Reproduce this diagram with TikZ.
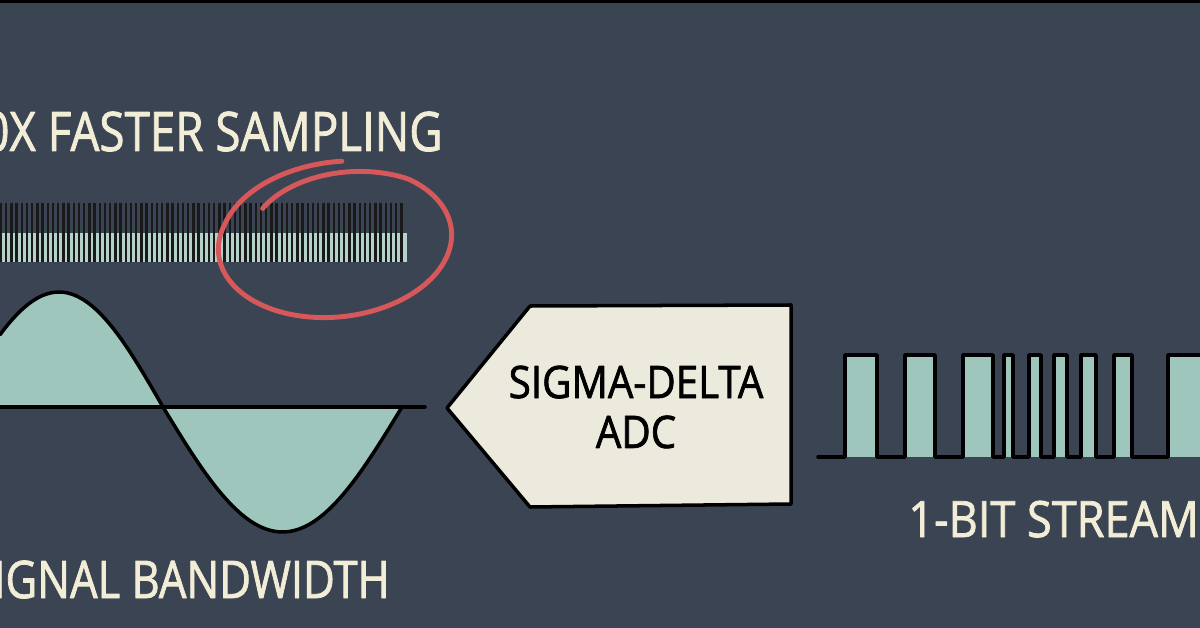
\documentclass[tikz,border=0pt]{standalone}
\usepackage{fontspec}
\setmainfont{Open Sans}
\newfontfamily\handfont[FakeStretch=0.9, FakeBold=1.5]{Open Sans}
\newfontfamily\capfont[FakeStretch=0.84, FakeBold=1.5]{Open Sans}
\usepackage{xcolor}
\usepackage{tikz}
\usetikzlibrary{positioning}

\definecolor{slate}{HTML}{3B4452}
\definecolor{cream}{HTML}{F2EDD6}
\definecolor{paper}{HTML}{ECEADC}
\definecolor{seafoam}{HTML}{9EC6BC}
\definecolor{barlight}{HTML}{B4D2CA}
\definecolor{marker}{HTML}{D6585A}

\begin{document}
\begin{tikzpicture}[x=0.02cm, y=-0.02cm, line join=round, line cap=round,
    bigtext/.style={text=cream, inner sep=0pt, font=\capfont\fontsize{29.5}{32}\selectfont},
    adctext/.style={text=black, inner sep=0pt, align=center, font=\handfont\fontsize{25.5}{28.4}\selectfont},
    inkline/.style={draw=black, line width=2pt},
    adcbox/.style={draw=black, line width=2pt, fill=paper},
    tick/.style={draw=black!90, line width=1.3pt, line cap=butt},
    loop/.style={draw=marker, line width=2.8pt}]

% frame
\fill[slate] (0,0) rectangle (1200,628);
\useasboundingbox (0,0) rectangle (1200,628);
\clip (0,0) rectangle (1200,628);
\fill[black] (0,0) rectangle (1200,3);

% labels
\node[bigtext, anchor=base east, font=\capfont\fontsize{31}{34}\selectfont] (fast) at (443,151) {0X FASTER SAMPLING};
\node[bigtext, anchor=base east] (band) at (390,598) {IGNAL BANDWIDTH};
\node[bigtext, anchor=base west, font=\handfont\fontsize{28.5}{31}\selectfont] (stream) at (908,537) {1-BIT STREAM};

% sample ticks
\fill[barlight] (0,233) rectangle (407,262);
\foreach \i in {0,...,77}
  \draw[tick] ({1+5.2*\i},203) -- ({1+5.2*\i},262);

% red ring round the fast part
\begin{scope}[rotate around={6:(335,242)}]
  \draw[loop] plot[domain=0:414, samples=180, smooth, variable=\u]
    ({335+117*(1-0.2*max(0,1-\u/90)+0.07*max(0,(\u-340)/74))*cos(137-\u)},
     {242-75*(1-0.2*max(0,1-\u/90)+0.07*max(0,(\u-340)/74))*sin(137-\u)});
\end{scope}

% sine wave
\fill[seafoam] (0,407)
  -- plot[domain=0:163, samples=40] (\x,{407-115*sin(0.8654*(\x+45))})
  -- plot[domain=163:402, samples=50] (\x,{407+125*sin(0.7531*(\x-163))})
  -- cycle;
\draw[inkline] (0,407) -- (425,407);
\draw[inkline] plot[domain=0:163, samples=40] (\x,{407-115*sin(0.8654*(\x+45))})
  -- plot[domain=163:402, samples=50] (\x,{407+125*sin(0.7531*(\x-163))});

% converter block
\draw[adcbox] (447,408) -- (530,306) -- (791,305) -- (791,504) -- (530,507) -- cycle;
\node[adctext] (adc) at (636,407) {SIGMA-DELTA\\ADC};

% bit stream
\foreach \a/\b in {845/877, 905/935, 963/993, 1004/1013, 1029/1041, 1054/1067, 1081/1096, 1114/1132, 1168/1215}
  \fill[seafoam] (\a,355) rectangle (\b,457);
\draw[inkline] (818,457)
  \foreach \a/\b in {845/877, 905/935, 963/993, 1004/1013, 1029/1041, 1054/1067, 1081/1096, 1114/1132, 1168/1215}
  { -- (\a,457) -- (\a,355) -- (\b,355) -- (\b,457) };
\end{tikzpicture}
\end{document}
